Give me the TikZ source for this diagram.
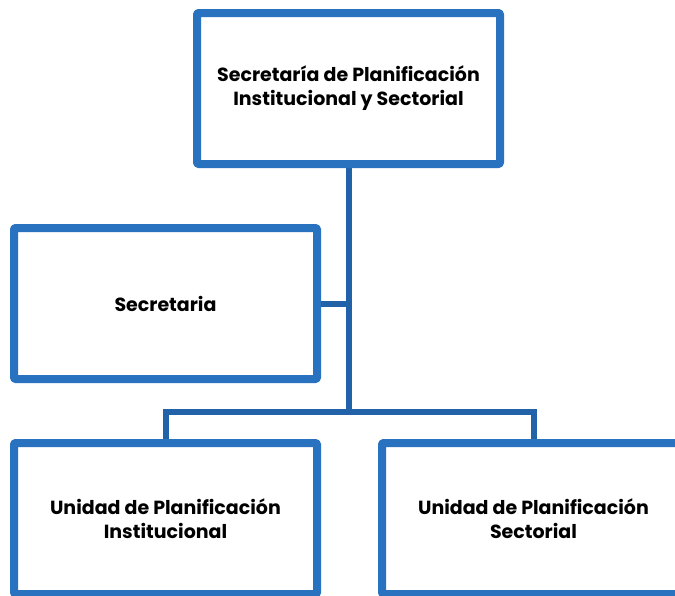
\documentclass[tikz,border=0pt]{standalone}
\usepackage{fontspec}
\setmainfont{Poppins}
\usepackage{tikz}
\usetikzlibrary{shadows,backgrounds}

\definecolor{boxblue}{RGB}{41,114,192}
\definecolor{linkblue}{RGB}{34,98,168}

\begin{document}
\begin{tikzpicture}[x=1pt, y=-1pt, line join = round, line cap = round,
    unit/.style={draw=boxblue, line width=8pt, fill=white, rounded corners=1pt,
                 minimum width=303pt, minimum height=151pt, align=center,
                 font=\fontsize{19}{24}\selectfont\bfseries,
                 drop shadow={opacity=0.25, shadow xshift=2pt, shadow yshift=-3pt}},
    link/.style={draw=linkblue, line width=6pt}]

                \useasboundingbox (0,0) rectangle (675,595);

                \node[unit] (spis) at (348.5,88.5) {Secretaría de Planificación\\Institucional y Sectorial};
                \node[unit] (sec) at (165.5,303.5) {Secretaria};
                \node[unit] (upi) at (165.5,518.5) {Unidad de Planificación\\Institucional};
                \node[unit] (ups) at (533.5,518.5) {Unidad de Planificación\\Sectorial};
                \coordinate (bar) at (348.5,412);

                \begin{scope}[on background layer]
                  \draw[link] (spis.south) -- (bar);
                  \draw[link] (sec.east) -- (sec.east -| spis.south);
                  \draw[link] (upi.north) |- (bar) -| (ups.north);
                \end{scope}
              \end{tikzpicture}
\end{document}
